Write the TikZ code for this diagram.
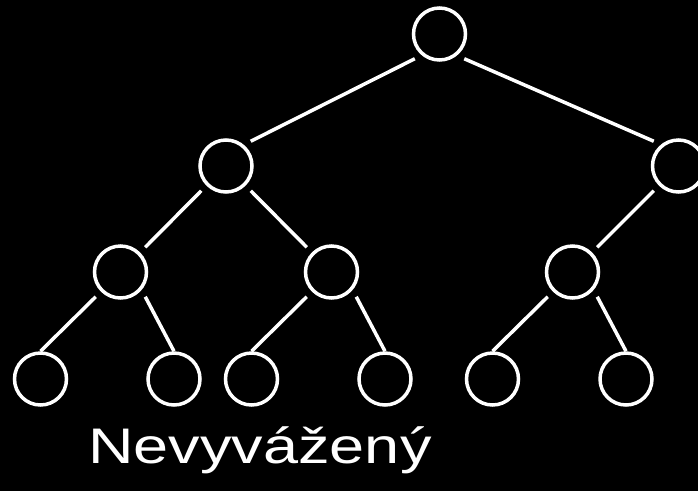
\documentclass[tikz,border=0pt]{standalone}
\usepackage{fontspec}
\newfontfamily\labelfont{Liberation Sans}
\usetikzlibrary{positioning}

\begin{document}
\begin{tikzpicture}[x=1pt,y=1pt,white,line width=3.5pt,on grid,
                        main node/.style={circle,draw,minimum size=52pt,inner sep=0pt,outer sep=9pt},
                        leaf node/.style={main node,outer sep=1.75pt}]
        \useasboundingbox (0,0) rectangle (698,-491);
        \fill[black] (0,0) rectangle (698,-491);

        \node[main node] (root) at (439.5,-34) {};
        \node[main node] (l) [below left=132pt and 213.5pt of root] {};
        \node[main node] (r) [below right=132pt and 239pt of root] {};
        \node[main node] (ll) [below left=106pt and 105.5pt of l] {};
        \node[main node] (lr) [below right=106pt and 105.5pt of l] {};
        \node[main node] (rl) [below left=106pt and 106pt of r] {};
        \node[leaf node] (leaf1) [below left=107pt and 80pt of ll] {};
        \node[leaf node] (leaf2) [below right=107pt and 53.5pt of ll] {};
        \node[leaf node] (leaf3) [below left=107pt and 80pt of lr] {};
        \node[leaf node] (leaf4) [below right=107pt and 53.5pt of lr] {};
        \node[leaf node] (leaf5) [below left=107pt and 80pt of rl] {};
        \node[leaf node] (leaf6) [below right=107pt and 53.5pt of rl] {};

        \path (root.south west) edge (l.north east);
        \path (root.south east) edge (r.north west);
        \path (l.south west) edge (ll.north east);
        \path (l.south east) edge (lr.north west);
        \path (r.south west) edge (rl.north east);
        \path (ll.south west) edge (leaf1.north);
        \path (ll.south east) edge (leaf2.north);
        \path (lr.south west) edge (leaf3.north);
        \path (lr.south east) edge (leaf4.north);
        \path (rl.south west) edge (leaf5.north);
        \path (rl.south east) edge (leaf6.north);

        \node[anchor=base,inner sep=0pt,font=\labelfont\fontsize{50}{60}\selectfont]
            (caption) at (260,-463.3) {\scalebox{1.26}[1]{Nevyvážený}};
    \end{tikzpicture}
\end{document}
